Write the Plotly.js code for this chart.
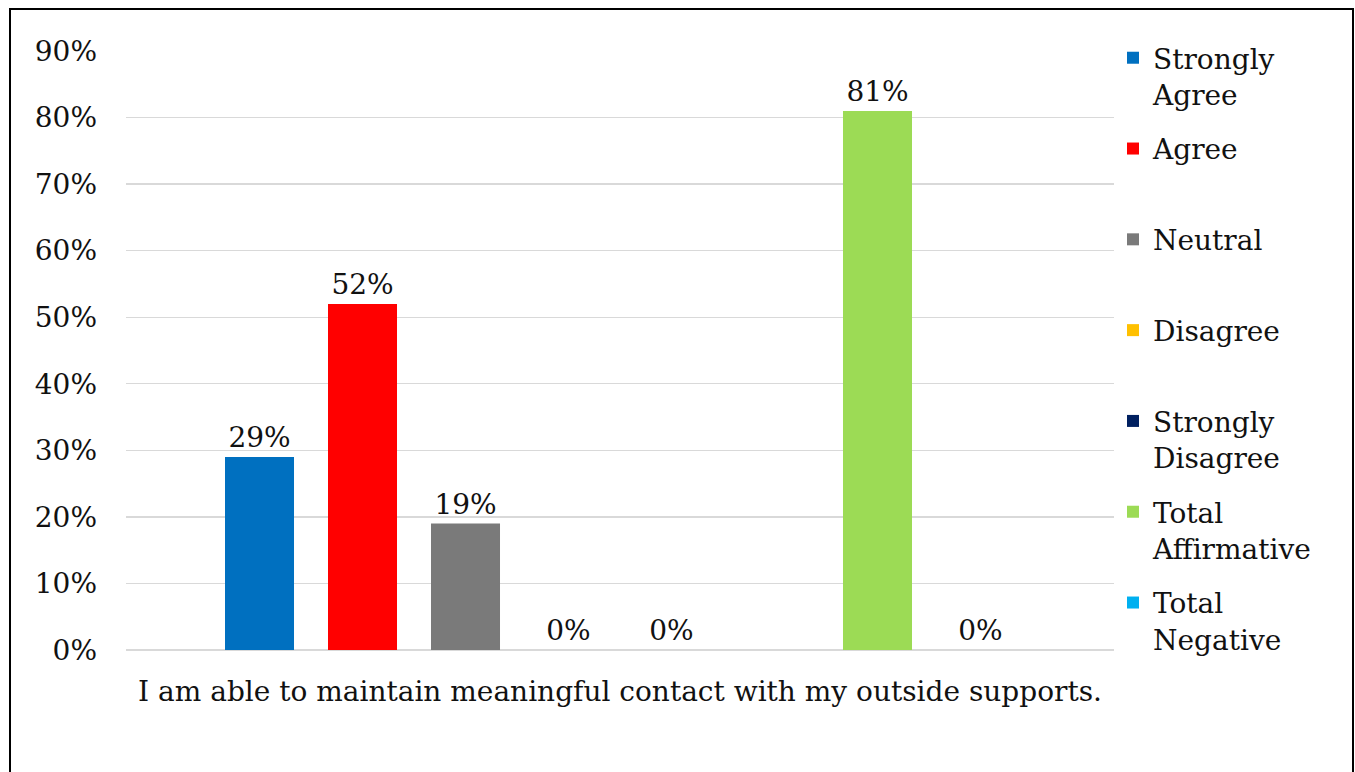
<!DOCTYPE html>
<html>
<head>
<meta charset="utf-8">
<script src="https://cdn.plot.ly/plotly-3.0.1.min.js"></script>
<style>
  html, body { margin: 0; padding: 0; background: #fff; }
  #frame { position: absolute; left: 9px; top: 8px; width: 1345px; height: 820px; border: 2.5px solid #000; box-sizing: border-box; }
  #chart { position: absolute; left: 0; top: 0; width: 1355px; height: 772px; }
</style>
</head>
<body>
<div id="frame"></div>
<div id="chart"></div>
<script>
// ---- data ----
const categories = ['I am able to maintain meaningful contact with my outside supports.'];
const seriesNames = ['Strongly Agree', 'Agree', 'Neutral', 'Disagree', 'Strongly Disagree', '', 'Total Affirmative', 'Total Negative'];
const legendLabels = ['Strongly<br>Agree', 'Agree<br> ', 'Neutral<br> ', 'Disagree<br> ', 'Strongly<br>Disagree', '', 'Total<br>Affirmative', 'Total<br>Negative'];
const seriesValues = [0.29, 0.52, 0.19, 0, 0, null, 0.81, 0];
const seriesColors = ['#0070C0', '#FF0000', '#7A7A7A', '#FFC000', '#002060', '#FFFFFF', '#9CDB55', '#00B0F0'];
const yTickVals = [0, 0.1, 0.2, 0.3, 0.4, 0.5, 0.6, 0.7, 0.8, 0.9];

const FONT = 'DejaVu Serif, Georgia, serif';
const FS = 28;

const traces = seriesNames.map((name, i) => {
  const blank = seriesValues[i] === null;
  return {
    type: 'bar',
    name: legendLabels[i],
    x: categories,
    y: [seriesValues[i]],
    marker: { color: seriesColors[i] },
    text: blank ? [''] : [Math.round(seriesValues[i] * 100) + '%'],
    textposition: 'outside',
    textfont: { family: FONT, size: FS, color: '#111' },
    cliponaxis: false,
    showlegend: !blank,
    legendgroup: 'g' + i,
    hoverinfo: blank ? 'skip' : 'y'
  };
});

const layout = {
  width: 1355,
  height: 772,
  margin: { l: 126, r: 241, t: 51, b: 122 },
  paper_bgcolor: 'rgba(0,0,0,0)',
  plot_bgcolor: 'rgba(0,0,0,0)',
  font: { family: FONT, size: FS, color: '#111' },
  barmode: 'group',
  bargap: 0.166,
  bargroupgap: 0.33,
  showlegend: true,
  legend: {
    x: 0.999, xanchor: 'left',
    y: 1.03, yanchor: 'top',
    traceorder: 'grouped',
    tracegroupgap: 15,
    valign: 'top',
    maxheight: 740,
    font: { family: FONT, size: FS, color: '#111' },
    bgcolor: 'rgba(0,0,0,0)'
  },
  xaxis: {
    type: 'category',
    showgrid: false,
    showline: false,
    zeroline: false,
    ticks: '',
    ticklabelstandoff: 22,
    tickfont: { family: FONT, size: FS, color: '#111' }
  },
  yaxis: {
    range: [0, 0.9],
    tickvals: yTickVals,
    ticktext: yTickVals.map(v => Math.round(v * 100) + '%'),
    showgrid: true,
    gridcolor: '#D9D9D9',
    gridwidth: 1.3,
    zeroline: true,
    zerolinecolor: '#D9D9D9',
    zerolinewidth: 1.3,
    showline: false,
    ticks: '',
    ticklabelstandoff: 28,
    tickfont: { family: FONT, size: FS, color: '#111' }
  }
};

Plotly.newPlot('chart', traces, layout, { displayModeBar: false, staticPlot: true });
</script>
</body>
</html>
